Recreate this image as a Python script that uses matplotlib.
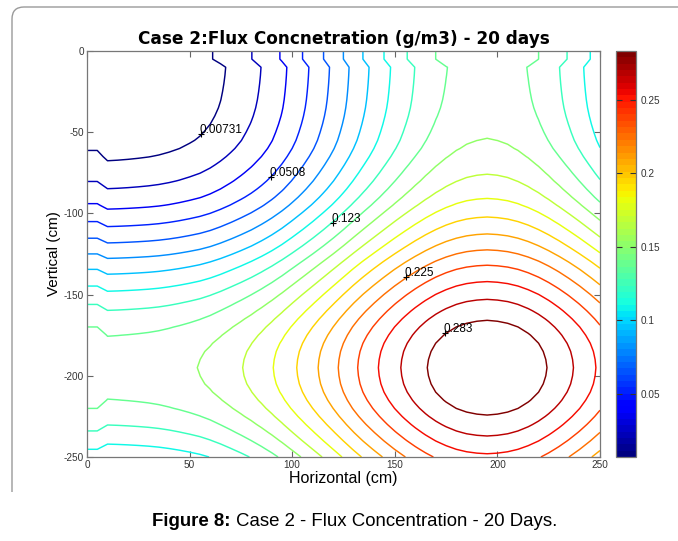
import numpy as np
import matplotlib
matplotlib.use("Agg")
import matplotlib.pyplot as plt
from matplotlib import colors, cm
from matplotlib.path import Path
from matplotlib.patches import PathPatch

plt.rcParams['font.family'] = ['Liberation Sans', 'DejaVu Sans']
plt.rcParams['axes.unicode_minus'] = False

# contour levels (20 levels between the extremes)
c_min = 0.00731
c_max = 0.283
n_levels = 20

# centre of the plume (cm)
peak_x = 195.0
peak_y = -195.0

# concentration along the ridge through the peak vs distance from it (cm)
ridge_dist = [0, 10, 20, 29.2, 42.1, 53.0, 63.1, 72.5, 82.3, 92.8, 104.2, 119.1, 141.2, 165, 185, 195]
ridge_conc = [0.2975, 0.2958, 0.2907, 0.2830, 0.2685, 0.2540, 0.2395, 0.2250, 0.2105,
              0.1959, 0.1814, 0.1669, 0.1524, 0.1460, 0.1443, 0.1440]

# the two outer node rows/cols on the left and top sit a bit higher
edge_bump = 0.0043

# contour labels: level index and where the '+' sits
label_idx = [0, 3, 8, 15, 19]
label_x = [55.6, 89.7, 120.0, 155.5, 174.5]
label_y = [-51.3, -77.4, -105.7, -139.3, -173.6]

cbar_ticks = [0.05, 0.1, 0.15, 0.2, 0.25]
cbar_labels = ['0.05', '0.1', '0.15', '0.2', '0.25']
x_ticks = [0, 50, 100, 150, 200, 250]
y_ticks = [0, -50, -100, -150, -200, -250]


def pchip(xk, yk, x):
    # monotone cubic through the ridge readings, flat at both ends
    xk = np.asarray(xk, float)
    yk = np.asarray(yk, float)
    h = np.diff(xk)
    delta = np.diff(yk) / h
    m = np.zeros_like(yk)
    for k in range(1, len(xk) - 1):
        if delta[k - 1] * delta[k] > 0:
            w1 = 2 * h[k] + h[k - 1]
            w2 = h[k] + 2 * h[k - 1]
            m[k] = (w1 + w2) / (w1 / delta[k - 1] + w2 / delta[k])
    i = np.clip(np.searchsorted(xk, x) - 1, 0, len(xk) - 2)
    t = (x - xk[i]) / h[i]
    return ((2 * t**3 - 3 * t**2 + 1) * yk[i] + (t**3 - 2 * t**2 + t) * h[i] * m[i]
            + (-2 * t**3 + 3 * t**2) * yk[i + 1] + (t**3 - t**2) * h[i] * m[i + 1])


# 5 cm grid
xs = np.arange(0, 251, 5.0)
ys = np.arange(0, -251, -5.0)
px = pchip(ridge_dist, ridge_conc, np.abs(xs - peak_x))
py = pchip(ridge_dist, ridge_conc, np.abs(ys - peak_y))
px[xs <= 5] = px[xs == 10] + edge_bump
py[ys >= -5] = py[ys == -10] + edge_bump
conc = py[:, None] + px[None, :] - ridge_conc[0]

W, H = 678, 541
fig = plt.figure(figsize=(W / 100, H / 100), dpi=100)


def fx(p):
    return p / W


def fy(p):
    return 1 - p / H


ax = fig.add_axes([fx(87), fy(457), fx(600) - fx(87), fy(51) - fy(457)])
levels = np.linspace(c_min, c_max, n_levels)
norm = colors.Normalize(c_min, c_max)
cs = ax.contour(xs, ys, conc, levels=levels, cmap='jet', norm=norm, linewidths=1.05)

for i, xl, yl in zip(label_idx, label_x, label_y):
    ax.plot(xl, yl, '+', color='k', ms=5, mew=0.8)
    ax.annotate('%.3g' % levels[i], (xl, yl), xytext=(-1, -1.5), textcoords='offset points',
                ha='left', va='bottom', fontsize=8.5, color='k')

ax.set_xlim(0, 250)
ax.set_ylim(-250, 0)
ax.set_xticks(x_ticks)
ax.set_yticks(y_ticks)
ax.tick_params(direction='in', length=4, width=0.8, top=True, right=True,
               labelsize=7.2, labelcolor='#333333', color='#666666', pad=2)
for s in ax.spines.values():
    s.set_color('#777777')
    s.set_linewidth(0.9)

ax.set_title('Case 2:Flux Concnetration (g/m3) - 20 days', fontsize=12.2,
             fontweight='bold', family='DejaVu Sans', pad=5)
ax.set_xlabel('Horizontal (cm)', fontsize=11.5, labelpad=1)
ax.set_ylabel('Vertical (cm)', fontsize=11, labelpad=2)

# colour bar
cax = fig.add_axes([fx(616), fy(457), fx(636) - fx(616), fy(51) - fy(457)])
sm = cm.ScalarMappable(norm=norm, cmap=plt.get_cmap('jet', 64))
cb = fig.colorbar(sm, cax=cax)
cb.set_ticks(cbar_ticks)
cb.set_ticklabels(cbar_labels)
cax.tick_params(direction='in', length=4, width=0.8, left=True, right=True,
                labelsize=7.2, labelcolor='#333333', color='#333333', pad=3.5)
cb.outline.set_edgecolor('#777777')
cb.outline.set_linewidth(0.9)

# window frame (left and top edges, rounded corner)
verts = [(fx(12), fy(492)), (fx(12), fy(19)), (fx(12), fy(7)), (fx(24), fy(7)), (fx(700), fy(7))]
codes = [Path.MOVETO, Path.LINETO, Path.CURVE3, Path.CURVE3, Path.LINETO]
fig.patches.append(PathPatch(Path(verts, codes), transform=fig.transFigure,
                             fill=False, edgecolor='#9a9a9a', lw=1.0))

# caption: bold lead-in followed by plain text
t1 = fig.text(fx(152), fy(521), 'Figure 8:', fontsize=13.4, fontweight='bold',
              ha='left', va='center')
fig.canvas.draw()
bb = t1.get_window_extent()
fig.text(bb.x1 / W + fx(5), fy(521), 'Case 2 - Flux Concentration - 20 Days.', fontsize=13.4,
         ha='left', va='center')

fig.savefig('out.png', dpi=100)
